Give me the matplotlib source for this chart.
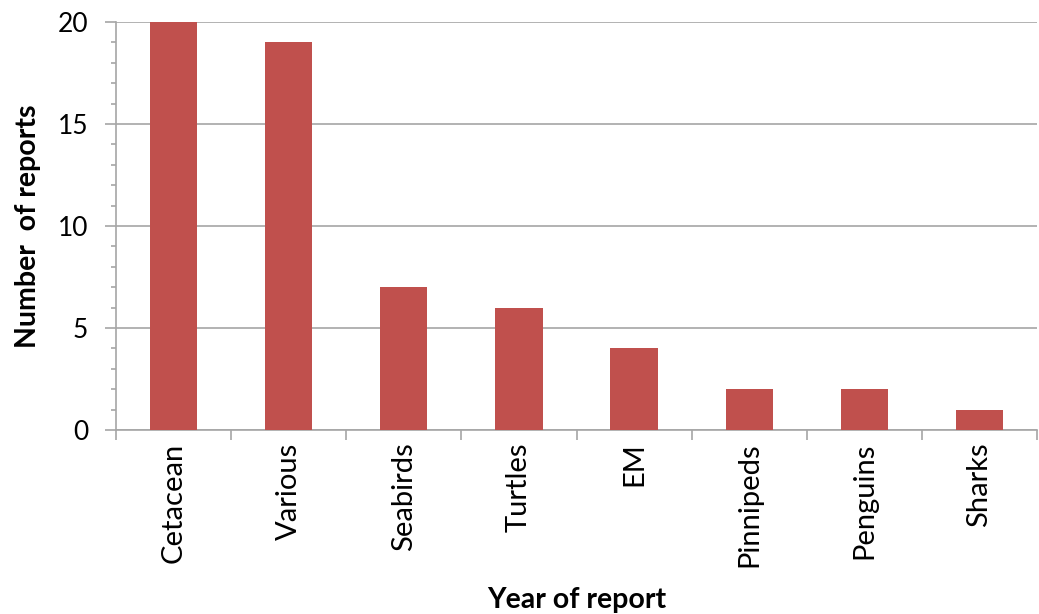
import matplotlib
matplotlib.use("Agg")
import matplotlib.pyplot as plt
import numpy as np

categories = ["Cetacean", "Various", "Seabirds", "Turtles", "EM", "Pinnipeds", "Penguins", "Sharks"]
values = [20, 19, 7, 6, 4, 2, 2, 1]

plt.rcParams['font.family'] = ['Lato', 'DejaVu Sans']

fig = plt.figure(figsize=(10.39, 6.14), dpi=100)
W, H = 1039, 614
ax = fig.add_axes([116 / W, 1 - 430 / H, (1037 - 116) / W, (430 - 22) / H])

x = np.arange(len(categories))
ax.bar(x, values, width=0.41, color="#C0504D", zorder=3)

ax.set_xlim(-0.5, len(categories) - 0.5)
ax.set_ylim(0, 20)
ax.set_yticks([0, 5, 10, 15, 20])
ax.set_yticks(np.arange(0, 21, 1), minor=True)
ax.yaxis.grid(True, which="major", color="#A6A6A6", linewidth=1.2, zorder=0)

# x: boundary ticks (major), labels at centers (minor)
ax.set_xticks(np.arange(-0.5, len(categories) + 0.5, 1))
ax.set_xticklabels([])
ax.set_xticks(x, minor=True)
ax.set_xticklabels(categories, minor=True, rotation=90, fontsize=21)
ax.tick_params(axis="x", which="major", length=7, width=1.2, color="#A6A6A6", direction="out")
ax.tick_params(axis="x", which="minor", length=0, pad=9)
ax.tick_params(axis="y", which="major", length=8, width=1.2, color="#A6A6A6", labelsize=19, pad=12)
ax.tick_params(axis="y", which="minor", length=3.5, width=1.2, color="#A6A6A6")

for s in ["top", "right"]:
    ax.spines[s].set_visible(False)
for s in ["left", "bottom"]:
    ax.spines[s].set_color("#A6A6A6")
    ax.spines[s].set_linewidth(1.2)

ax.set_ylabel("Number  of reports", fontsize=20.5, fontweight="bold", labelpad=12)
ax.set_xlabel("Year of report", fontsize=20.5, fontweight="bold", labelpad=14)

fig.savefig("out.png", dpi=100)
